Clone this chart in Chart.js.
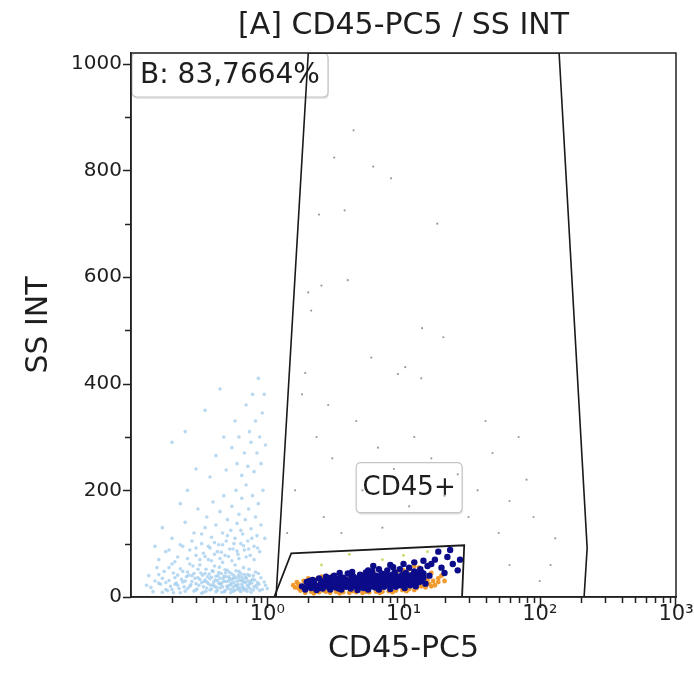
<!DOCTYPE html>
<html>
<head>
<meta charset="utf-8">
<script src="https://cdn.jsdelivr.net/npm/chart.js@4.4.1/dist/chart.umd.min.js"></script>
<style>
  html, body { margin: 0; padding: 0; background: #fff; }
  #wrap { width: 694px; height: 694px; }
</style>
</head>
<body>
<div id="wrap"><canvas id="plot" width="694" height="694"></canvas></div>
<script>
// axis setup
const xMin = 0.1, xMax = 1000;
const yMin = 0, yMax = 1020;
const yTickValues = [0, 200, 400, 600, 800, 1000];
const xTickLabels = { 1: '10\u2070', 10: '10\u00b9', 100: '10\u00b2', 1000: '10\u00b3' };

const chartTitle = '[A] CD45-PC5 / SS INT';
const xTitle = 'CD45-PC5';
const yTitle = 'SS INT';
const gateLabelB = 'B: 83,7664%';
const gateLabelCD45 = 'CD45+';
const cd45LabelAt = [11, 205]; // where the gate name sits (data units)

// gates (data units), closed polygons
const gateB = [[1.16, 0], [2.0, 1020], [138.7, 1020], [222.8, 92], [211.6, 0], [1.16, 0]];
const gateCD45 = [[1.125, 0], [1.5, 82], [27.9, 97], [26.9, 0], [1.125, 0]];

// events left of the gate (debris, light blue)
const debris = [
  [0.14,18],[0.16,42],[0.17,9],[0.18,27],[0.19,55],[0.2,14],[0.21,36],[0.22,22],[0.23,8],[0.24,48],
  [0.25,30],[0.26,16],[0.27,62],[0.28,40],[0.29,11],[0.3,25],[0.31,52],[0.32,33],[0.33,7],[0.34,19],
  [0.35,44],[0.36,28],[0.37,70],[0.38,13],[0.39,37],[0.4,23],[0.41,58],[0.42,10],[0.43,31],[0.44,46],
  [0.45,17],[0.46,26],[0.47,65],[0.48,39],[0.49,12],[0.5,29],[0.51,50],[0.52,21],[0.53,34],[0.54,8],
  [0.55,43],[0.56,18],[0.57,27],[0.58,60],[0.59,36],[0.6,14],[0.61,24],[0.62,48],[0.63,31],[0.64,10],
  [0.65,38],[0.66,20],[0.67,55],[0.68,28],[0.7,15],[0.72,42],[0.74,25],[0.76,9],[0.78,33],[0.8,19],
  [0.82,47],[0.85,27],[0.88,12],[0.9,36],
  [0.15,30],[0.165,24],[0.185,12],[0.205,45],[0.215,26],[0.235,33],[0.245,19],[0.265,41],[0.275,23],
  [0.295,35],[0.305,15],[0.325,45],[0.345,29],[0.355,11],[0.365,38],[0.385,22],[0.395,49],[0.415,32],
  [0.425,18],[0.435,40],[0.455,24],[0.465,9],[0.475,34],[0.495,45],[0.505,20],[0.525,38],[0.535,14],
  [0.545,26],[0.565,35],[0.575,12],[0.595,22],[0.615,41],[0.635,17],[0.655,30],[0.675,13],[0.695,37],
  [0.715,22],[0.735,52],[0.755,30],[0.79,40],[0.83,22],[0.86,44],[0.95,28],[1.0,16],
  [0.13,22],[0.135,40],[0.145,10],[0.155,55],[0.16,26],[0.17,35],[0.175,48],[0.18,14],[0.19,31],[0.195,20],
  [0.2,62],[0.205,8],[0.21,24],[0.22,41],[0.225,16],[0.23,53],[0.24,28],[0.25,11],[0.255,38],[0.26,47],
  [0.27,20],[0.28,29],[0.285,58],[0.29,44],[0.3,13],[0.31,36],[0.315,22],[0.32,60],[0.33,27],[0.335,41],
  [0.34,9],[0.35,32],[0.355,52],[0.36,17],[0.37,25],[0.375,43],[0.38,34],[0.39,15],[0.4,48],[0.405,28],
  [0.41,20],[0.42,39],[0.43,12],[0.44,26],[0.445,56],[0.45,35],[0.46,44],[0.47,19],[0.48,29],[0.485,10],
  [0.49,51],[0.5,38],[0.51,16],[0.52,30],[0.53,46],[0.54,23],[0.55,33],[0.56,11],[0.57,40],[0.58,21],
  [0.59,49],[0.6,30],[0.61,18],[0.62,36],[0.63,12],[0.64,44],[0.65,24],[0.66,33],[0.67,16],[0.68,42],
  [0.69,27],[0.7,35],[0.71,11],[0.72,30],[0.73,19],[0.74,40],[0.75,15],[0.77,26],[0.79,13],[0.81,32],
  [0.84,17],[0.87,24],[0.92,14],[0.97,22],
  [0.16,70],[0.19,88],[0.21,66],[0.23,98],[0.26,72],[0.28,105],[0.3,92],[0.32,70],[0.33,118],[0.35,76],
  [0.37,95],[0.39,68],[0.41,102],[0.43,85],[0.45,72],[0.47,98],[0.49,78],[0.51,115],[0.53,90],[0.55,68],
  [0.57,100],[0.6,86],[0.62,72],[0.64,125],[0.67,96],[0.7,75],[0.73,90],[0.77,110],[0.8,70],[0.85,92],
  [0.18,85],[0.2,110],[0.22,75],[0.24,95],[0.25,140],[0.27,88],[0.29,120],[0.3,78],[0.31,165],[0.33,100],
  [0.34,82],[0.35,130],[0.36,150],[0.38,92],[0.39,112],[0.4,178],[0.41,80],[0.42,135],[0.44,98],[0.45,160],
  [0.46,84],[0.47,120],[0.48,190],[0.5,105],[0.51,145],[0.52,76],[0.54,125],[0.55,170],[0.56,90],[0.58,110],
  [0.59,200],[0.6,138],[0.61,80],[0.62,155],[0.64,100],[0.65,185],[0.66,118],[0.68,88],[0.69,145],[0.7,210],
  [0.72,105],[0.73,165],[0.75,78],[0.76,128],[0.78,190],[0.8,95],[0.82,150],[0.84,115],[0.86,175],[0.88,85],
  [0.9,135],[0.93,200],[0.96,110],[0.15,95],[0.17,130],[0.23,175],[0.26,200],
  [0.3,240],[0.38,225],[0.42,265],[0.48,300],[0.5,238],[0.55,280],[0.58,330],[0.6,250],[0.62,300],[0.65,228],
  [0.68,270],[0.7,360],[0.72,245],[0.74,310],[0.76,290],[0.78,380],[0.8,235],[0.82,330],[0.84,270],[0.86,410],
  [0.88,300],[0.9,250],[0.92,345],[0.95,380],[0.97,285],[0.25,310],[0.2,290],[0.45,390],[0.35,350]
];

// sparse events inside the big gate (grey)
const sparse = [
  [4.3,875],[3.1,824],[6.0,807],[8.1,785],[2.4,717],[3.7,725],[17.7,700],[2.5,584],[3.9,594],[2.0,571],
  [2.1,537],[13.7,504],[19.6,487],[5.8,449],[10.3,431],[9.1,418],[13.5,410],
  [2.3,300],[3.0,260],[4.5,330],[6.5,280],[8.5,240],[12,300],[16,260],[25,230],[35,200],[45,270],[60,180],
  [80,220],[30,150],[20,190],[11,170],[5,200],[2.6,150],[3.5,120],[7,130],[50,120],[90,150],[130,110],
  [40,330],[70,300],[1.8,380],[1.9,420],[2.8,360],[1.6,200],[1.4,120],[120,60],[60,60],[100,30]
];

// CD45+ lymphocytes (navy)
const lymphs = [
  [1.8,20],[1.9,14],[1.95,28],[2.0,22],[2.1,17],[2.15,32],[2.2,25],[2.3,13],[2.35,20],[2.4,35],
  [2.5,27],[2.55,16],[2.6,23],[2.7,38],[2.8,19],[2.85,30],[2.9,14],[3.0,25],[3.1,40],[3.2,18],
  [3.3,32],[3.4,22],[3.5,14],[3.6,36],[3.7,27],[3.8,19],[3.9,44],[4.0,30],[4.1,16],[4.2,24],
  [4.3,38],[4.4,20],[4.5,33],[4.6,13],[4.7,27],[4.8,42],[4.9,22],[5.0,35],[5.1,17],[5.2,29],
  [5.3,46],[5.4,24],[5.5,14],[5.6,37],[5.7,21],[5.8,31],[5.9,48],[6.0,26],[6.2,18],[6.3,40],
  [6.4,30],[6.5,22],[6.6,14],[6.8,35],[6.9,44],[7.0,27],[7.2,19],[7.3,38],[7.5,30],[7.6,50],
  [7.8,23],[8.0,15],[8.1,41],[8.3,32],[8.5,25],[8.6,46],[8.8,19],[9.0,36],[9.2,28],[9.4,52],
  [9.5,22],[9.7,40],[10,31],[10.2,17],[10.4,45],[10.6,26],[10.8,36],[11,55],[11.2,22],[11.5,41],
  [11.8,30],[12,48],[12.3,20],[12.6,38],[13,28],[13.3,52],[13.7,35],[14,44],[14.5,25],[15,58],
  [15.5,40],[16,62],
  [2.05,30],[2.25,18],[2.45,24],[2.65,31],[2.75,21],[2.95,36],[3.15,27],[3.35,16],[3.55,29],[3.75,33],
  [3.95,21],[4.15,36],[4.35,28],[4.55,24],[4.75,18],[4.95,30],[5.15,38],[5.35,33],[5.65,27],[5.85,20],
  [6.1,34],[6.7,28],[7.1,33],[7.4,24],[7.9,36],[8.2,27],[8.7,31],[9.1,23],[9.6,33],[9.9,42],
  [10.5,33],[11.1,28],[11.6,35],[12.2,33],[12.8,44],[13.5,30],[4.2,47],[5.5,50],[6.6,52],[3.4,45],[8.4,56],
  [2.2,30],[2.4,17],[2.6,28],[2.8,34],[3.0,19],[3.2,29],[3.4,35],[3.6,21],[3.8,28],[4.0,23],
  [4.2,32],[4.4,26],[4.6,35],[4.8,25],[5.0,20],[5.2,36],[5.4,29],[5.6,22],[5.8,40],[6.0,32],
  [6.2,25],[6.4,37],[6.6,20],[6.8,29],[7.0,38],[7.2,31],[7.4,42],[7.6,25],[7.8,31],[8.0,38],
  [8.2,22],[8.4,34],[8.6,28],[8.8,40],[9.0,26],[9.2,36],[9.4,30],[9.6,25],[9.8,38],[10.1,24],
  [10.4,36],[10.7,31],[11,40],[11.3,33],[11.7,25],[12,38],[12.5,30],[13,40],[13.5,46],[14,36],
  [17,70],[19,55],[21,75],[23,62],[18,85],[14,68],[25,50],[20,45],[22,88],[12,65],[10,62],[8,60],[6,58],[26,70]
];

// orange events around the lymphocyte cluster
const monos = [
  [1.6,18],[1.7,24],[1.75,12],[1.85,30],[1.9,8],[2.0,35],[2.1,10],[2.3,33],[2.4,9],[2.6,12],
  [2.9,8],[3.2,10],[3.6,9],[4.0,8],[4.5,9],[5.0,8],[5.6,9],[6.3,10],[7.0,10],[7.8,11],
  [8.8,12],[9.8,13],[11,15],[12.5,17],[13.5,20],[14.5,18],[15.5,24],[16.5,30],[17,22],[15,32],
  [18,35],[16,45],[14,38],[13,55],[12,58],[10,50],[9,48],[11,52],[7.5,45],[6,46],
  [5,43],[4,41],[3,40],[2.5,38],[1.7,16],[1.65,28],[19,40],[20,30],
  [1.55,22],[2.2,7],[2.7,10],[3.4,7],[4.2,11],[5.3,10],[6.7,8],[8.3,9],[10.5,11],[12,13],[16,20],[18,28]
];

// a few yellow-green events
const others = [[4,80],[7,70],[15,85],[2.5,60],[10,78]];

const toXY = arr => arr.map(p => ({ x: p[0], y: p[1] }));

const font = "'DejaVu Sans', sans-serif";
const ink = '#1e1e1e';

function roundBox(ctx, x, y, w, h, r) {
  ctx.beginPath();
  ctx.moveTo(x + r, y);
  ctx.lineTo(x + w - r, y);
  ctx.quadraticCurveTo(x + w, y, x + w, y + r);
  ctx.lineTo(x + w, y + h - r);
  ctx.quadraticCurveTo(x + w, y + h, x + w - r, y + h);
  ctx.lineTo(x + r, y + h);
  ctx.quadraticCurveTo(x, y + h, x, y + h - r);
  ctx.lineTo(x, y + r);
  ctx.quadraticCurveTo(x, y, x + r, y);
  ctx.closePath();
}

function labelBox(ctx, text, x, y, w, h, size) {
  ctx.save();
  roundBox(ctx, x + 1, y + 2, w, h, 5);
  ctx.fillStyle = 'rgba(0,0,0,0.10)';
  ctx.fill();
  roundBox(ctx, x, y, w, h, 5);
  ctx.fillStyle = '#fff';
  ctx.fill();
  ctx.strokeStyle = '#c4c4c4';
  ctx.lineWidth = 1.2;
  ctx.stroke();
  ctx.fillStyle = ink;
  ctx.font = size + 'px ' + font;
  ctx.textAlign = 'center';
  ctx.textBaseline = 'middle';
  ctx.fillText(text, x + w / 2, y + h / 2 + 1);
  ctx.restore();
}

const decor = {
  id: 'decor',
  beforeDatasetsDraw(chart) {
    const { ctx, chartArea: a, scales } = chart;
    labelBox(ctx, gateLabelB, a.left + 1, a.top, 196, 44, 28);
    const cx = scales.x.getPixelForValue(cd45LabelAt[0]);
    const cy = scales.y.getPixelForValue(cd45LabelAt[1]);
    labelBox(ctx, gateLabelCD45, cx - 53, cy - 25, 106, 50, 26);
  },
  afterDraw(chart) {
    const { ctx, chartArea: a, scales } = chart;
    ctx.save();
    // frame
    ctx.strokeStyle = '#222';
    ctx.lineWidth = 1.5;
    ctx.strokeRect(a.left, a.top, a.right - a.left, a.bottom - a.top);
    // x tick marks (log, major + minor)
    ctx.beginPath();
    for (let k = -1; k <= 2; k++) {
      for (let m = 1; m <= 9; m++) {
        const v = m * Math.pow(10, k);
        if (v <= xMin) continue;
        const px = Math.round(scales.x.getPixelForValue(v)) + 0.5;
        const len = m === 1 ? 11 : 6;
        ctx.moveTo(px, a.bottom);
        ctx.lineTo(px, a.bottom + len);
      }
    }
    const pEnd = Math.round(scales.x.getPixelForValue(xMax)) - 0.5;
    ctx.moveTo(pEnd, a.bottom);
    ctx.lineTo(pEnd, a.bottom + 11);
    // y tick marks
    for (let v = 0; v <= 1000; v += 100) {
      const py = Math.round(scales.y.getPixelForValue(v)) + 0.5;
      const len = v % 200 === 0 ? 8 : 6;
      ctx.moveTo(a.left, py);
      ctx.lineTo(a.left - len, py);
    }
    ctx.stroke();
    // title centred over the plot area
    ctx.fillStyle = ink;
    ctx.font = '30px ' + font;
    ctx.textAlign = 'center';
    ctx.textBaseline = 'middle';
    ctx.fillText(chartTitle, (a.left + a.right) / 2, 26);
    ctx.restore();
  }
};

new Chart(document.getElementById('plot'), {
  type: 'scatter',
  data: {
    datasets: [
      { data: toXY(gateB), showLine: true, borderColor: '#1a1a1a', borderWidth: 1.6, pointRadius: 0, fill: false, order: 0 },
      { data: toXY(gateCD45), showLine: true, borderColor: '#1a1a1a', borderWidth: 1.8, pointRadius: 0, fill: false, order: 0 },
      { data: toXY(others), backgroundColor: '#c9d86a', borderWidth: 0, pointRadius: 1.4, order: 1 },
      { data: toXY(lymphs), backgroundColor: '#0c0c8a', borderWidth: 0, pointRadius: 3.2, order: 2 },
      { data: toXY(monos), backgroundColor: '#f29a2e', borderWidth: 0, pointRadius: 2.4, order: 3 },
      { data: toXY(sparse), backgroundColor: '#9a9a9a', borderWidth: 0, pointRadius: 1.1, order: 4 },
      { data: toXY(debris), backgroundColor: 'rgba(160,204,236,0.75)', borderWidth: 0, pointRadius: 1.8, order: 5 }
    ]
  },
  options: {
    responsive: false,
    animation: false,
    events: [],
    layout: { padding: { top: 53, right: 18, left: 17, bottom: 23 } },
    plugins: { legend: { display: false }, tooltip: { enabled: false }, title: { display: false } },
    scales: {
      x: {
        type: 'logarithmic',
        min: xMin,
        max: xMax,
        grid: { display: false, drawTicks: false, tickLength: 0 },
        border: { display: true, color: '#222', width: 1.5 },
        afterBuildTicks(scale) {
          scale.ticks = [1, 10, 100, 1000].map(v => ({ value: v }));
        },
        ticks: {
          autoSkip: false,
          maxRotation: 0,
          padding: 5,
          color: ink,
          font: { family: font, size: 21 },
          callback: v => xTickLabels[v] || ''
        },
        title: { display: true, text: xTitle, color: ink, font: { family: font, size: 30 } },
        afterFit(scale) {
          scale.height = 74;
          scale.paddingLeft = 0;
          scale.paddingRight = 0;
        }
      },
      y: {
        min: yMin,
        max: yMax,
        grid: { display: false, drawTicks: false, tickLength: 0 },
        border: { display: true, color: '#222', width: 1.5 },
        afterBuildTicks(scale) {
          scale.ticks = yTickValues.map(v => ({ value: v }));
        },
        ticks: {
          padding: 9,
          color: ink,
          font: { family: font, size: 20 },
          callback: v => String(v)
        },
        title: { display: true, text: yTitle, color: ink, font: { family: font, size: 30 } },
        afterFit(scale) {
          scale.width = 114;
          scale.paddingTop = 0;
          scale.paddingBottom = 0;
        }
      }
    }
  },
  plugins: [decor]
});
</script>
</body>
</html>
